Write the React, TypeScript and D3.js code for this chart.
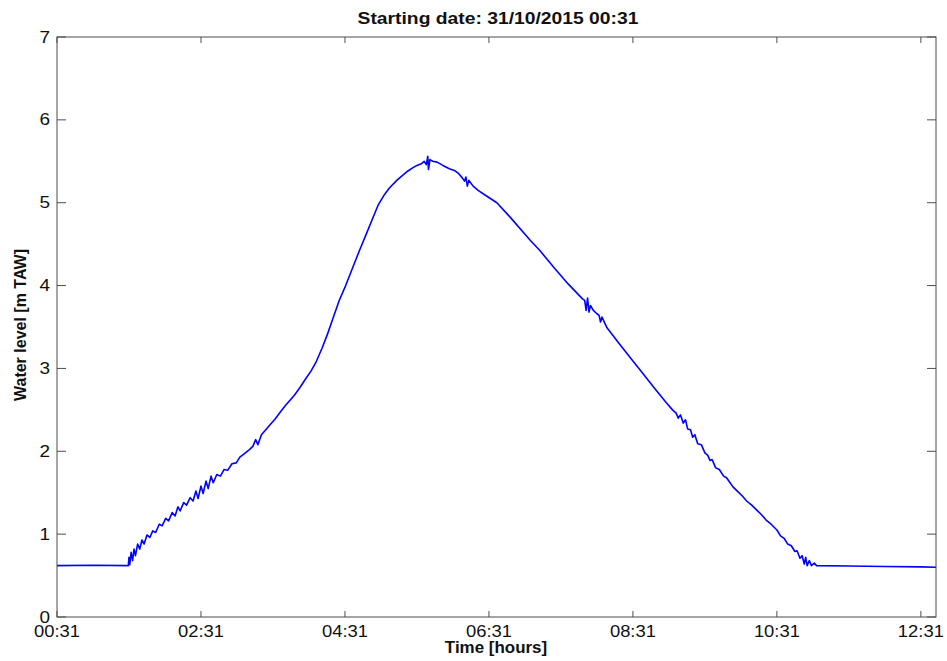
import React from "react";
import * as d3 from "d3";

// Hours since 00:31 and water level [m TAW]
const hours: number[] = [
  0, 0.5, 0.98, 0.99, 1.0, 1.01, 1.03, 1.05, 1.07, 1.09, 1.12, 1.15, 1.18, 1.21, 1.25, 1.29,
  1.33, 1.37, 1.42, 1.46, 1.51, 1.55, 1.6, 1.64, 1.68, 1.71, 1.76, 1.8, 1.85, 1.89, 1.93, 1.96,
  2.0, 2.03, 2.07, 2.1, 2.14, 2.17, 2.22, 2.27, 2.32, 2.37, 2.43, 2.49, 2.54, 2.6, 2.66, 2.72,
  2.76, 2.79, 2.84, 2.9, 2.96, 3.03, 3.1, 3.17, 3.24, 3.3, 3.375, 3.45, 3.53, 3.6, 3.68, 3.76,
  3.84, 3.92, 4.01, 4.1, 4.2, 4.3, 4.38, 4.46, 4.55, 4.62, 4.72, 4.8, 4.87,
  4.94, 5.0, 5.06, 5.1, 5.13, 5.15, 5.16, 5.18, 5.22, 5.28, 5.36, 5.45, 5.52, 5.58, 5.63, 5.66,
  5.68, 5.7, 5.72, 5.78, 5.85, 5.95, 6.11, 6.3, 6.57, 6.71, 6.9, 7.1, 7.3, 7.33, 7.35, 7.37,
  7.39, 7.41, 7.45, 7.5, 7.53, 7.55, 7.57, 7.64, 7.8, 8.0, 8.1, 8.3, 8.47, 8.55, 8.6, 8.63,
  8.66, 8.7, 8.73, 8.76, 8.8, 8.83, 8.86, 8.9, 8.95, 9.0, 9.04, 9.07, 9.1, 9.15, 9.2, 9.26,
  9.3, 9.35, 9.39, 9.45, 9.52, 9.58, 9.65, 9.72, 9.78, 9.85, 9.92, 10.0, 10.05, 10.1, 10.15,
  10.2, 10.25, 10.28, 10.32, 10.35, 10.38, 10.4, 10.42, 10.45, 10.48, 10.52, 10.55, 11.0, 11.5,
  12.0, 12.21,
];
const level: number[] = [
  0.62, 0.625, 0.62, 0.62, 0.72, 0.63, 0.78, 0.68, 0.82, 0.74, 0.88, 0.82, 0.93, 0.88, 0.99, 0.96,
  1.04, 1.02, 1.12, 1.1, 1.19, 1.16, 1.26, 1.22, 1.33, 1.28, 1.38, 1.35, 1.44, 1.4, 1.52, 1.43,
  1.58, 1.49, 1.64, 1.55, 1.7, 1.62, 1.72, 1.7, 1.78, 1.77, 1.85, 1.86, 1.93, 1.97, 2.01, 2.06,
  2.14, 2.08, 2.2, 2.26, 2.32, 2.39, 2.47, 2.55, 2.62, 2.68, 2.77, 2.87, 2.97, 3.08, 3.24, 3.42,
  3.62, 3.82, 4.0, 4.2, 4.42, 4.63, 4.8, 4.97, 5.1, 5.18, 5.27, 5.33, 5.38,
  5.42, 5.45, 5.47, 5.5, 5.46, 5.56, 5.4, 5.52, 5.5, 5.49, 5.45, 5.41, 5.39, 5.35, 5.3, 5.26,
  5.31, 5.2, 5.27, 5.2, 5.15, 5.09, 5.0, 4.82, 4.55, 4.42, 4.22, 4.02, 3.84, 3.82, 3.7, 3.85,
  3.68, 3.76, 3.7, 3.66, 3.64, 3.56, 3.62, 3.49, 3.31, 3.09, 2.98, 2.76, 2.58, 2.5, 2.46, 2.4,
  2.44, 2.34, 2.38, 2.27, 2.26, 2.17, 2.2, 2.09, 2.08, 1.98, 1.95, 1.89, 1.9, 1.8, 1.78, 1.7,
  1.68, 1.62, 1.57, 1.52, 1.46, 1.4, 1.35, 1.29, 1.24, 1.17, 1.12, 1.05, 0.98, 0.95, 0.88,
  0.86, 0.79, 0.8, 0.71, 0.74, 0.64, 0.72, 0.62, 0.68, 0.62, 0.65, 0.62, 0.615, 0.61,
  0.605, 0.6,
];

const xTickValues: number[] = [0, 2, 4, 6, 8, 10, 12];
const xTickLabels: string[] = ["00:31", "02:31", "04:31", "06:31", "08:31", "10:31", "12:31"];
const yTickValues: number[] = [0, 1, 2, 3, 4, 5, 6, 7];

const titleText = "Starting date: 31/10/2015 00:31";
const xLabelText = "Time [hours]";
const yLabelText = "Water level [m TAW]";

const W = 947;
const H = 661;
const M = { left: 57, right: 936, top: 37, bottom: 617 };
const FONT = "'Liberation Sans', Arial, Helvetica, sans-serif";
const AXIS = "#4d4d4d";

export default function App() {
  const x = d3.scaleLinear().domain([0, 12.21]).range([M.left, M.right]);
  const y = d3.scaleLinear().domain([0, 7]).range([M.bottom, M.top]);
  const line = d3
    .line<number>()
    .x((_, i) => x(hours[i]))
    .y((d) => y(d));
  const path = line(level) || "";
  const tx = 6;
  const ty = 9;
  const sx = 1.15;

  return (
    <svg width={W} height={H} style={{ display: "block", position: "absolute", left: 0, top: 0, background: "#fff" }}>
      <rect x={0} y={0} width={W} height={H} fill="#fff" />
      <path d={path} fill="none" stroke="#0000ff" strokeWidth={1.6} strokeLinejoin="round" />
      <rect x={M.left} y={M.top} width={M.right - M.left} height={M.bottom - M.top} fill="none" stroke={AXIS} strokeWidth={1} />
      {xTickValues.map((v, i) => (
        <g key={"xt" + i}>
          <line x1={x(v)} x2={x(v)} y1={M.bottom} y2={M.bottom - tx} stroke={AXIS} />
          <line x1={x(v)} x2={x(v)} y1={M.top} y2={M.top + tx} stroke={AXIS} />
          <text
            transform={`translate(${x(v)},636.5) scale(${sx},1)`}
            textAnchor="middle"
            fontFamily={FONT}
            fontSize={16}
            fill="#111"
          >
            {xTickLabels[i]}
          </text>
        </g>
      ))}
      {yTickValues.map((v, i) => (
        <g key={"yt" + i}>
          <line x1={M.left} x2={M.left + ty} y1={y(v)} y2={y(v)} stroke={AXIS} />
          <line x1={M.right} x2={M.right - ty} y1={y(v)} y2={y(v)} stroke={AXIS} />
          <text
            transform={`translate(50,${y(v) + 5.5}) scale(${sx},1)`}
            textAnchor="end"
            fontFamily={FONT}
            fontSize={16.5}
            fill="#111"
          >
            {v}
          </text>
        </g>
      ))}
      <text x={498} y={24} textAnchor="middle" fontFamily={FONT} fontWeight="bold" fontSize={16.5} fill="#111"
        transform={`translate(498,0) scale(1.17,1) translate(-498,0)`}>
        {titleText}
      </text>
      <text
        transform={`translate(496,652.5) scale(1.06,1)`}
        textAnchor="middle"
        fontFamily={FONT}
        fontWeight="bold"
        fontSize={16}
        fill="#111"
      >
        {xLabelText}
      </text>
      <text
        transform={`translate(26,325) rotate(-90)`}
        textAnchor="middle"
        fontFamily={FONT}
        fontWeight="bold"
        fontSize={16}
        fill="#111"
      >
        {yLabelText}
      </text>
    </svg>
  );
}
